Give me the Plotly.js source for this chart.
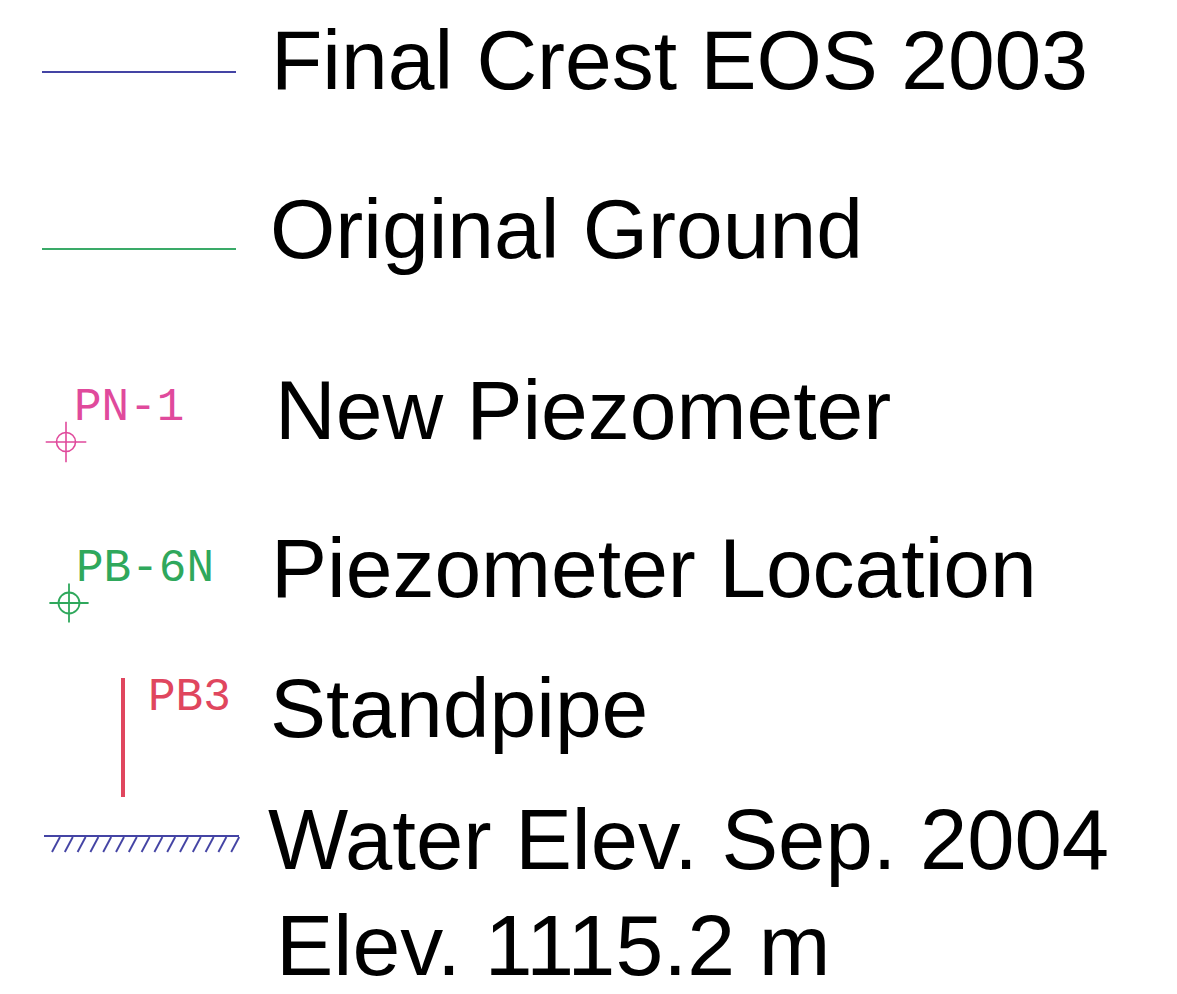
<!DOCTYPE html>
<html>
<head>
<meta charset="utf-8">
<script src="https://cdn.plot.ly/plotly-3.0.1.min.js"></script>
<style>html,body{margin:0;padding:0;background:#fff;}#chart{width:1177px;height:994px;}</style>
</head>
<body>
<div id="chart"></div>
<script>
// ---- legend content ----
const legendLabels = ["Final Crest EOS 2003", "Original Ground", "New Piezometer", "Piezometer Location", "Standpipe", "Water Elev. Sep. 2004", "Elev. 1115.2 m"];
const symbolCodes = ["PN-1", "PB-6N", "PB3"];
const waterElevation = 1115.2;

// ---- layout constants (pixel space of the sheet) ----
const W = 1177, H = 994;
const labelX = [269, 268, 273, 269, 268, 266, 274];
const labelY = [60, 229, 410, 568, 708, 839, 945];   // cap centre of each row
const labelSize = [84, 84, 84, 84, 84, 85, 86];
const lineX0 = 42, lineX1 = 236;
const crestY = 72, groundY = 249;
const colBlue = "#4444a4", colGreen = "#3aaa68", colPink = "#e04a9c", colPG = "#2fa85c", colRed = "#e0465e";

const traces = [];
// Final crest line
traces.push({x:[lineX0,lineX1], y:[crestY,crestY], mode:"lines", line:{color:colBlue,width:1.8}, hoverinfo:"skip"});
// Original ground line
traces.push({x:[lineX0,lineX1], y:[groundY,groundY], mode:"lines", line:{color:colGreen,width:1.9}, hoverinfo:"skip"});
// New piezometer symbol
traces.push({x:[66], y:[442], mode:"markers", marker:{symbol:"circle-open", size:19, color:colPink, line:{width:1.6,color:colPink}}, hoverinfo:"skip"});
traces.push({x:[66], y:[442], mode:"markers", marker:{symbol:"cross-thin-open", size:29, color:colPink, line:{width:1.6,color:colPink}}, hoverinfo:"skip"});
// Piezometer location symbol
traces.push({x:[69], y:[603], mode:"markers", marker:{symbol:"circle-open", size:21, color:colPG, line:{width:1.8,color:colPG}}, hoverinfo:"skip"});
traces.push({x:[69], y:[603], mode:"markers", marker:{symbol:"cross-thin-open", size:28, color:colPG, line:{width:1.8,color:colPG}}, hoverinfo:"skip"});
// Standpipe
traces.push({x:[123,123], y:[678,797], mode:"lines", line:{color:colRed,width:4}, hoverinfo:"skip"});
// Water level with hatch
const wY = 836, hatchN = 15;
traces.push({x:[lineX0+2,lineX1+3], y:[wY,wY], mode:"lines", line:{color:colBlue,width:1.8}, hoverinfo:"skip"});
const hx = [], hy = [];
for (let i = 0; i < hatchN; i++) {
  const bx = 52 + i * 12.8;
  hx.push(bx, bx + 8, null);
  hy.push(852, wY + 1, null);
}
traces.push({x:hx, y:hy, mode:"lines", line:{color:colBlue,width:1.9}, hoverinfo:"skip"});

// symbol code texts
traces.push({x:[74,76,148], y:[408,569,698], mode:"text", text:symbolCodes, textposition:"middle right",
  textfont:{family:"Liberation Mono, DejaVu Sans Mono, monospace", size:46, color:[colPink,colPG,colRed]}, hoverinfo:"skip"});

const annotations = legendLabels.map((t,i)=>({
  x: labelX[i], y: labelY[i], xref:"x", yref:"y", text: t, showarrow:false,
  xanchor:"left", yanchor:"middle",
  font:{family:"Liberation Sans, Arial, sans-serif", size:labelSize[i], color:"#000"}
}));

const layout = {
  width: W, height: H,
  margin:{l:0,r:0,t:0,b:0},
  paper_bgcolor:"#fff", plot_bgcolor:"#fff",
  showlegend:false,
  xaxis:{range:[0,W], visible:false, fixedrange:true},
  yaxis:{range:[H,0], visible:false, fixedrange:true},
  annotations: annotations
};
Plotly.newPlot("chart", traces, layout, {displayModeBar:false, staticPlot:true});
</script>
</body>
</html>
